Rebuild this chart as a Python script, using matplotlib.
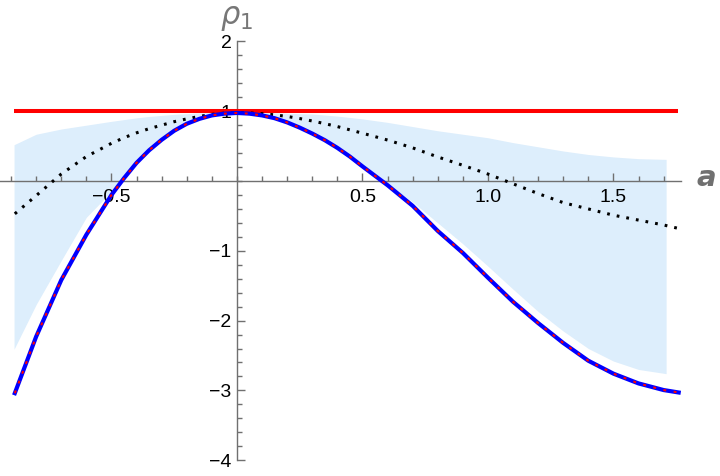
import numpy as np
import matplotlib.pyplot as plt
from matplotlib.ticker import FixedLocator, MultipleLocator

# sampled curves
x_curve = [-0.885, -0.8, -0.7, -0.6, -0.5, -0.45, -0.4, -0.35, -0.3, -0.25,
           -0.2, -0.15, -0.1, -0.05, 0.0, 0.05, 0.1, 0.15, 0.2, 0.25,
           0.3, 0.35, 0.4, 0.45, 0.5, 0.6, 0.7, 0.8, 0.9, 1.0,
           1.1, 1.2, 1.3, 1.4, 1.5, 1.6, 1.7, 1.76]
rho_blue = [-3.04, -2.23, -1.42, -0.77, -0.20, 0.04, 0.26, 0.44, 0.59, 0.72,
            0.82, 0.89, 0.94, 0.965, 0.975, 0.965, 0.94, 0.90, 0.84, 0.765,
            0.68, 0.585, 0.475, 0.35, 0.21, -0.06, -0.355, -0.715, -1.03, -1.385,
            -1.73, -2.035, -2.32, -2.575, -2.76, -2.90, -2.995, -3.03]
rho_dot = [-0.47, -0.21, 0.10, 0.35, 0.54, 0.62, 0.69, 0.75, 0.80, 0.85,
           0.89, 0.925, 0.955, 0.972, 0.98, 0.975, 0.965, 0.948, 0.925, 0.895,
           0.86, 0.822, 0.78, 0.733, 0.685, 0.587, 0.475, 0.345, 0.225, 0.10,
           -0.04, -0.18, -0.31, -0.40, -0.49, -0.56, -0.63, -0.68]

# band
x_band = [-0.888, -0.8, -0.7, -0.6, -0.5, -0.45, -0.4, -0.35, -0.3, -0.25,
          -0.2, -0.15, -0.1, -0.05, 0.0, 0.05, 0.1, 0.15, 0.2, 0.25,
          0.3, 0.35, 0.4, 0.45, 0.5, 0.6, 0.7, 0.8, 0.9, 1.0,
          1.1, 1.2, 1.3, 1.4, 1.5, 1.6, 1.71]
band_hi = [0.52, 0.67, 0.745, 0.80, 0.855, 0.88, 0.905, 0.925, 0.94, 0.955,
           0.965, 0.975, 0.98, 0.983, 0.985, 0.983, 0.98, 0.975, 0.97, 0.965,
           0.96, 0.945, 0.93, 0.91, 0.89, 0.84, 0.78, 0.72, 0.67, 0.62,
           0.55, 0.49, 0.43, 0.38, 0.345, 0.32, 0.31]
band_lo = [-2.41, -1.77, -1.14, -0.52, -0.15, 0.05, 0.26, 0.44, 0.59, 0.72,
           0.82, 0.89, 0.94, 0.965, 0.975, 0.965, 0.94, 0.90, 0.84, 0.765,
           0.68, 0.585, 0.475, 0.35, 0.21, -0.04, -0.30, -0.60, -0.90, -1.22,
           -1.55, -1.87, -2.15, -2.40, -2.58, -2.70, -2.76]

# bound line
x_bound = [-0.888, 1.758]
rho_bound = [1.0, 1.0]

xticks = [-0.5, 0.5, 1.0, 1.5]
xtick_labels = ['\u22120.5', '0.5', '1.0', '1.5']
yticks = [-4, -3, -2, -1, 1, 2]
ytick_labels = ['\u22124', '\u22123', '\u22122', '\u22121', '1', '2']

plt.rcParams['font.family'] = ['Liberation Sans', 'DejaVu Sans']
plt.rcParams['mathtext.fontset'] = 'dejavusans'

fig = plt.figure(figsize=(7.2, 4.76), dpi=100)
ax = fig.add_axes((0.0, 0.0332, 0.9454, 0.8798))
ax.set_xlim(-0.944, 1.768)
ax.set_ylim(-4, 2)

ax.fill_between(x_band, band_lo, band_hi, color='#ddeefc', lw=0, zorder=1)
ax.plot(x_bound, rho_bound, color='#ff0000', lw=2.9, solid_capstyle='butt', zorder=3)
ax.plot(x_curve, rho_dot, color='black', lw=2.2, ls=(0, (0.9, 2.3)), zorder=3)
ax.plot(x_curve, rho_blue, color='#0000ff', lw=3.0, zorder=4)
ax.plot(x_curve, rho_blue, color='#ff0000', lw=1.5, ls=(0, (1.4, 3.6)), zorder=5)

for s in ['top', 'right']:
    ax.spines[s].set_visible(False)
ax.spines['left'].set_position(('data', 0))
ax.spines['bottom'].set_position(('data', 0))
for s in ['left', 'bottom']:
    ax.spines[s].set_color('#707070')
    ax.spines[s].set_linewidth(1.0)
    ax.spines[s].set_zorder(2)

ax.xaxis.set_major_locator(FixedLocator(xticks))
ax.set_xticklabels(xtick_labels)
ax.xaxis.set_minor_locator(FixedLocator(np.round(np.arange(-0.9, 1.75, 0.1), 2)))
ax.yaxis.set_major_locator(FixedLocator(yticks))
ax.set_yticklabels(ytick_labels)
ax.yaxis.set_minor_locator(MultipleLocator(0.2))

ax.tick_params(which='both', direction='in', color='#707070', width=1.0,
               labelsize=14, labelcolor='black')
ax.tick_params(which='major', length=5.5)
ax.tick_params(which='minor', length=3.5)
ax.tick_params(axis='x', which='major', pad=6)
ax.tick_params(axis='y', which='major', pad=4)

ax.text(0.0, 2.33, r'$\rho_1$', color='#777777', fontsize=22,
        ha='center', va='center', clip_on=False)
ax.text(1.87, 0.04, 'a', color='#707070', fontsize=21, fontstyle='italic',
        fontweight='bold', family='DejaVu Sans', ha='center', va='center',
        clip_on=False)

fig.savefig('out.png', dpi=100)
